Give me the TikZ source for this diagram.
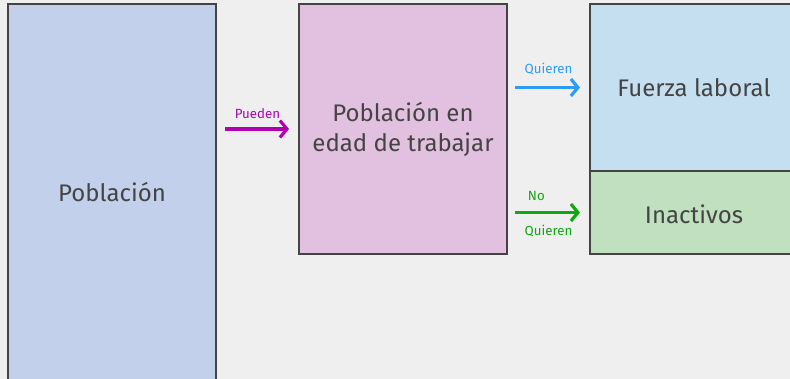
\documentclass[tikz,border=0pt]{standalone}
\usepackage{fontspec}
\setmainfont{Fira Sans}
\usetikzlibrary{arrows.meta}
\definecolor{bg}{HTML}{EFEFEF}
\definecolor{edge}{HTML}{444444}
\definecolor{txt}{HTML}{444444}
\definecolor{fpob}{HTML}{C2D0EC}
\definecolor{fpet}{HTML}{E2C0E0}
\definecolor{ffl}{HTML}{C5DEF0}
\definecolor{fina}{HTML}{C1E0C0}
\definecolor{cmag}{HTML}{B000B0}
\definecolor{cblue}{HTML}{2E9BF5}
\definecolor{cgreen}{HTML}{10A810}
\tikzset{
  big/.style={font=\fontsize{24}{30}\selectfont},
  box/.style={draw=edge, line width=2pt, rectangle, inner sep=0pt, text=txt,
    big, align=center},
  flow/.style={line width=3.5pt, -{Straight Barb[length=7pt,width=17pt,line width=3.2pt]},
    shorten <=8pt, shorten >=9pt},
  lab/.style={font=\fontsize{13.3}{15}\selectfont, inner sep=0pt}
}
\begin{document}
\begin{tikzpicture}[x=1pt,y=-1pt]
\useasboundingbox (0,0) rectangle (790,379);
\fill[bg] (0,0) rectangle (790,379);
\clip (0,0) rectangle (790,379);
\node[box, fill=fpob, minimum width=208pt, minimum height=386pt] (pob) at (112,197) {};
\node[text=txt, big] (pobt) at (112,192) {Población};
\node[box, fill=fpet, minimum width=208pt, minimum height=250pt] (pet) at (403,129) {Población en\\edad de trabajar};
\node[box, fill=ffl, minimum width=210pt, minimum height=167pt] (fl) at (695,87.5) {};
\node[text=txt, big] (flt) at (694,88) {Fuerza laboral};
\node[box, fill=fina, minimum width=210pt, minimum height=83pt] (ina) at (695,212.5) {};
\node[text=txt, big] (inat) at (694,214) {Inactivos};
\draw[flow, cmag] (pob.east |- pet) -- (pet.west) node[lab, midway, above=9pt, text=cmag] (lp) {Pueden};
\draw[flow, cblue, shorten <=7pt] (pet.east |- fl) -- (fl.west) node[lab, midway, above=11pt, text=cblue] (lq) {Quieren};
\draw[flow, cgreen, shorten <=7pt] (pet.east |- ina) -- (ina.west) node[lab, pos=0.35, above=10pt, text=cgreen] (ln) {No}
  node[lab, midway, below=11pt, text=cgreen] (lq2) {Quieren};
\end{tikzpicture}
\end{document}
